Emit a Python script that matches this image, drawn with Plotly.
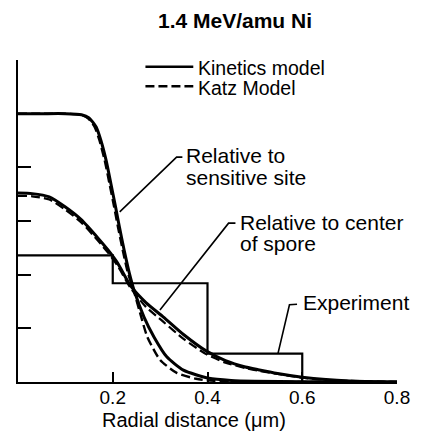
import plotly.graph_objects as go

# ---- data ----
x_site_kin = [0, 0.05, 0.10, 0.134, 0.150, 0.165, 0.175, 0.186, 0.196, 0.206, 0.214, 0.224, 0.235, 0.245,
              0.266, 0.287, 0.314, 0.349, 0.403, 0.45, 0.50, 0.60, 0.80]
y_site_kin = [5.0, 5.0, 5.0, 4.98, 4.92, 4.75, 4.5, 4.13, 3.70, 3.26, 2.89, 2.46, 2.03, 1.71,
              1.21, 0.84, 0.47, 0.22, 0.07, 0.03, 0.015, 0.005, 0.0]

x_site_katz = [0, 0.05, 0.10, 0.132, 0.147, 0.162, 0.172, 0.183, 0.193, 0.203, 0.211, 0.221, 0.232, 0.243,
               0.256, 0.273, 0.30, 0.335, 0.376, 0.40, 0.45, 0.80]
y_site_katz = [5.0, 5.0, 5.0, 4.98, 4.92, 4.75, 4.5, 4.13, 3.70, 3.26, 2.89, 2.46, 2.03, 1.74,
               1.34, 0.84, 0.41, 0.17, 0.06, 0.03, 0.01, 0.0]

x_spore_kin = [0, 0.03, 0.066, 0.10, 0.134, 0.169, 0.19, 0.21, 0.237, 0.27, 0.307, 0.35, 0.397,
               0.438, 0.48, 0.507, 0.548, 0.60, 0.65, 0.70, 0.80]
y_spore_kin = [3.52, 3.51, 3.45, 3.26, 3.02, 2.68, 2.46, 2.22, 1.80, 1.48, 1.21, 0.88, 0.58,
               0.40, 0.28, 0.23, 0.16, 0.09, 0.045, 0.02, 0.0]

x_spore_katz = [0, 0.03, 0.066, 0.10, 0.134, 0.169, 0.19, 0.21, 0.237, 0.27, 0.307, 0.35, 0.397,
                0.438, 0.48, 0.507, 0.548, 0.60, 0.65, 0.70, 0.80]
y_spore_katz = [3.47, 3.46, 3.40, 3.21, 2.97, 2.63, 2.41, 2.17, 1.76, 1.40, 1.12, 0.80, 0.52,
                0.36, 0.26, 0.21, 0.15, 0.08, 0.04, 0.02, 0.0]

# experiment histogram (bin edges and levels)
exp_edges = [0, 0.2, 0.4, 0.6]
exp_levels = [2.36, 1.84, 0.53, 0.0]

x_ticks = [0.2, 0.4, 0.6, 0.8]
x_tick_labels = ["0.2", "0.4", "0.6", "0.8"]
y_ticks = [1, 2, 3, 4, 5, 6]

FONT = "Liberation Sans, Arial, Helvetica, sans-serif"
BLACK = "#000000"
DASH = "9px,4px"

fig = go.Figure()

fig.add_trace(go.Scatter(x=exp_edges, y=exp_levels, mode="lines", line=dict(color=BLACK, width=2.2, shape="hv"),
                         name="Experiment", showlegend=False))
fig.add_trace(go.Scatter(x=x_spore_katz, y=y_spore_katz, mode="lines",
                         line=dict(color=BLACK, width=2.2, dash=DASH, shape="spline", smoothing=0.6),
                         name="Katz Model (spore)", showlegend=False))
fig.add_trace(go.Scatter(x=x_spore_kin, y=y_spore_kin, mode="lines",
                         line=dict(color=BLACK, width=3, shape="spline", smoothing=0.6),
                         name="Kinetics model (spore)", showlegend=False))
fig.add_trace(go.Scatter(x=x_site_katz, y=y_site_katz, mode="lines",
                         line=dict(color=BLACK, width=2.4, dash=DASH, shape="spline", smoothing=0.6),
                         name="Katz Model (site)", showlegend=False))
fig.add_trace(go.Scatter(x=x_site_kin, y=y_site_kin, mode="lines",
                         line=dict(color=BLACK, width=3, shape="spline", smoothing=0.6),
                         name="Kinetics model (site)", showlegend=False))

# legend samples
fig.add_shape(type="line", x0=0.269, x1=0.370, y0=5.875, y1=5.875, line=dict(color=BLACK, width=2.5))
fig.add_shape(type="line", x0=0.269, x1=0.370, y0=5.51, y1=5.51, line=dict(color=BLACK, width=2.5, dash=DASH))

# leader lines
fig.add_shape(type="path", path="M 0.2147,3.17 L 0.3348,4.19 L 0.347,4.19", line=dict(color=BLACK, width=1.6))
fig.add_shape(type="path", path="M 0.2996,1.34 L 0.4445,2.96 L 0.459,2.96", line=dict(color=BLACK, width=1.6))
fig.add_shape(type="path", path="M 0.5487,0.53 L 0.573,1.44 L 0.589,1.45", line=dict(color=BLACK, width=1.6))

def label(x, y, text, size=21):
    fig.add_annotation(x=x, y=y, xref="x", yref="y", text=text, showarrow=False,
                       xanchor="left", yanchor="middle", font=dict(family=FONT, size=size, color=BLACK))

label(0.376, 5.855, "Kinetics model", 19.5)
label(0.376, 5.48, "Katz Model", 19.5)
label(0.351, 4.22, "Relative to")
label(0.351, 3.81, "sensitive site")
label(0.465, 2.97, "Relative to center")
label(0.465, 2.59, "of spore")
label(0.598, 1.48, "Experiment")

# x-axis title
fig.add_annotation(x=0.372, y=-38 / 322, xref="x", yref="paper", text="Radial distance (μm)", showarrow=False,
                   xanchor="center", yanchor="middle", font=dict(family=FONT, size=20, color=BLACK))

fig.update_layout(
    width=422, height=434,
    margin=dict(l=18, r=18, t=60, b=52),
    paper_bgcolor="white", plot_bgcolor="white",
    showlegend=False,
    title=dict(text="<b>1.4 MeV/amu Ni</b>", x=235 / 422, xanchor="center", y=1 - 21 / 434, yanchor="middle",
               font=dict(family=FONT, size=21, color=BLACK)),
    xaxis=dict(range=[0, 0.8], showline=True, linecolor=BLACK, linewidth=2, showgrid=False, zeroline=False,
               ticks="inside", ticklen=10, tickwidth=2, tickcolor=BLACK,
               tickvals=x_ticks, ticktext=x_tick_labels, ticklabelstandoff=-3,
               tickfont=dict(family=FONT, size=19, color=BLACK)),
    yaxis=dict(range=[0, 6], showline=True, linecolor=BLACK, linewidth=2, showgrid=False, zeroline=False,
               ticks="inside", ticklen=13, tickwidth=2, tickcolor=BLACK,
               tickvals=y_ticks, showticklabels=False),
)

fig.write_html("out.html", config={"displayModeBar": False},
               post_script="document.body.style.margin='0px';")
